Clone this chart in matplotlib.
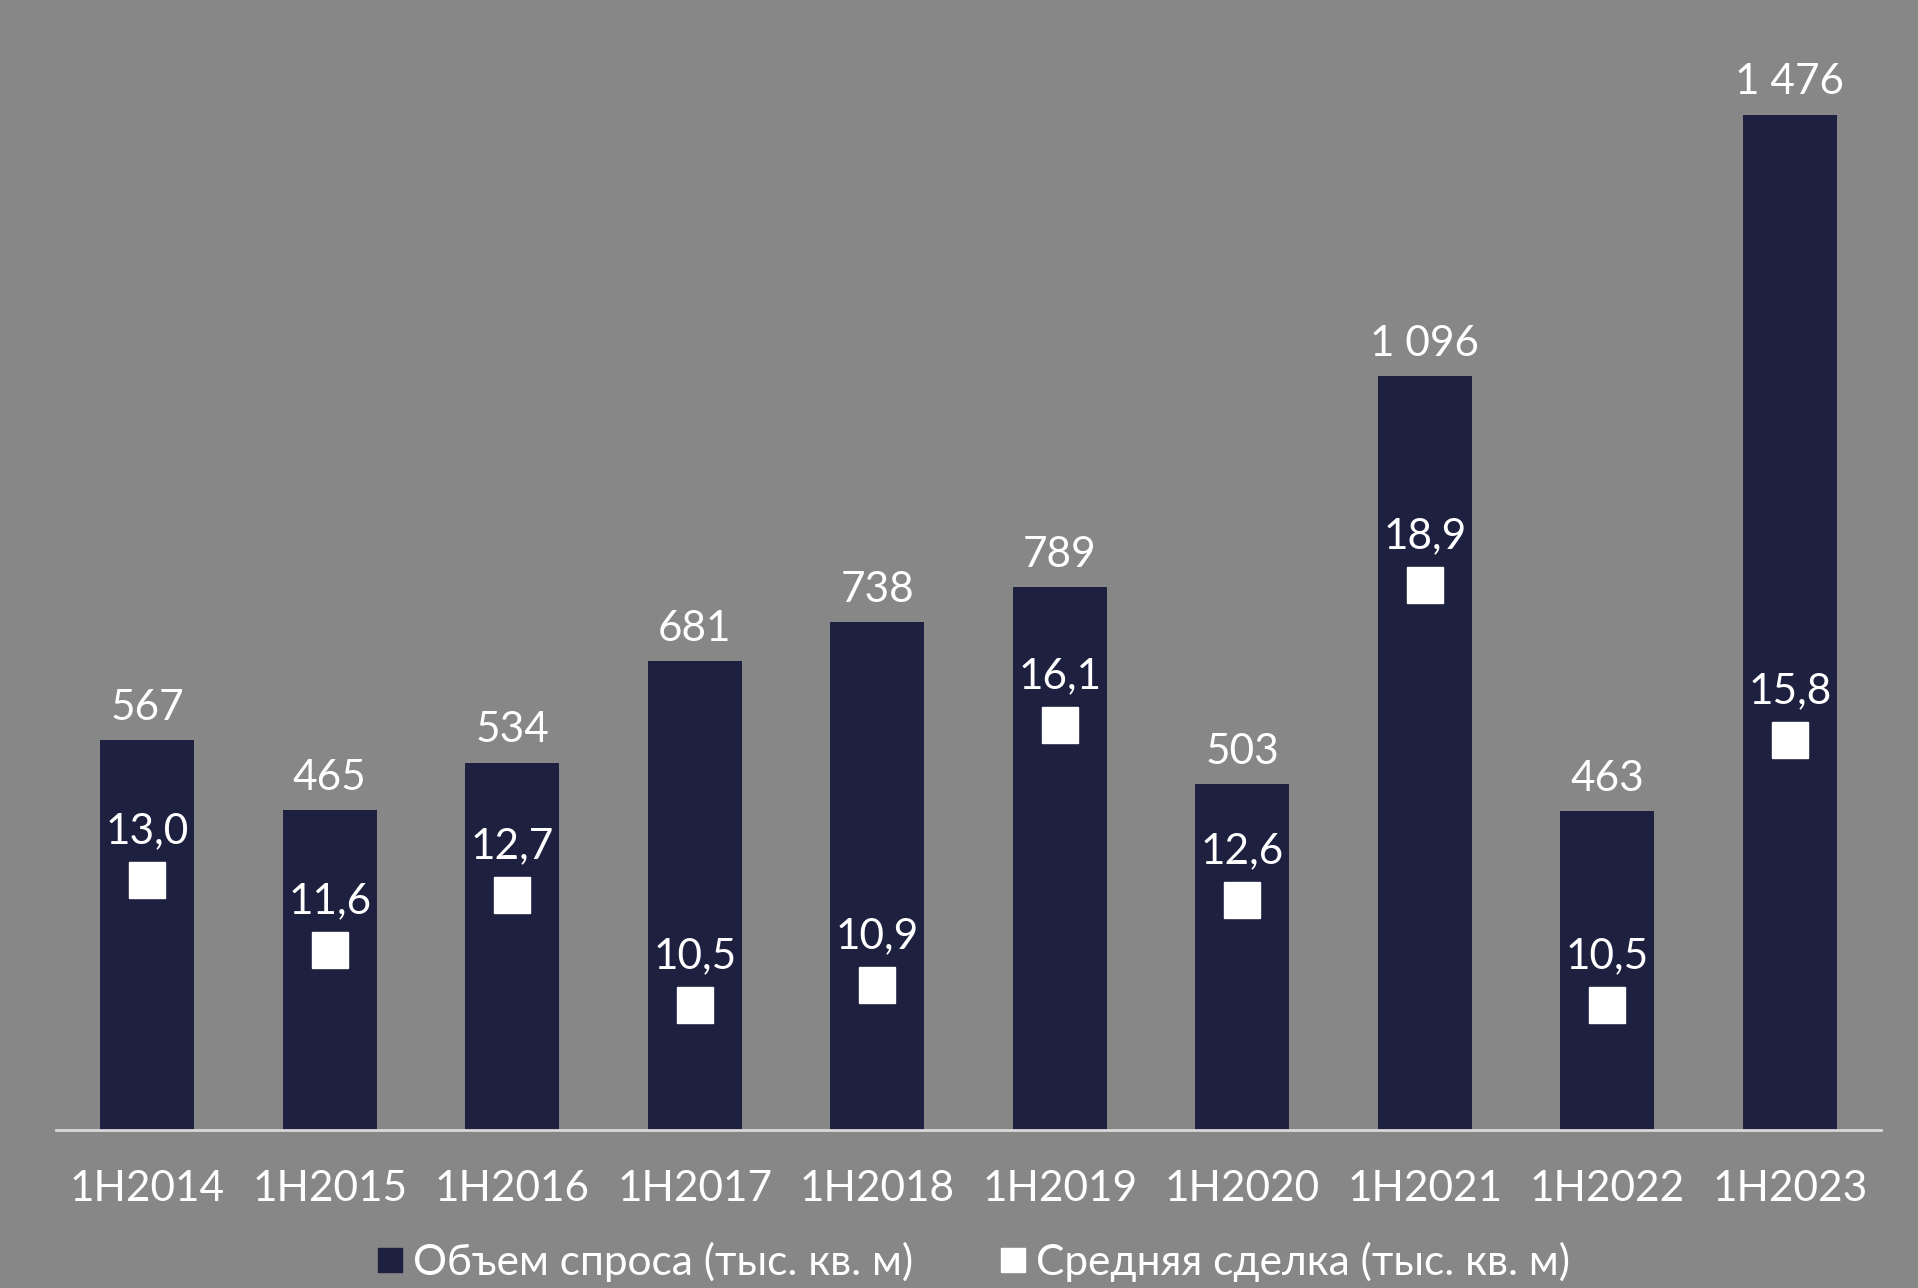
import matplotlib
matplotlib.use("Agg")
import matplotlib.pyplot as plt
from matplotlib.lines import Line2D

# Data
periods = ["1H2014", "1H2015", "1H2016", "1H2017", "1H2018",
           "1H2019", "1H2020", "1H2021", "1H2022", "1H2023"]
demand = [567, 465, 534, 681, 738, 789, 503, 1096, 463, 1476]
avg_deal = [13.0, 11.6, 12.7, 10.5, 10.9, 16.1, 12.6, 18.9, 10.5, 15.8]

BG = "#878787"
BAR = "#1e2040"
WHITE = "#ffffff"
FONT = ["Lato", "DejaVu Sans"]
FS = 30.5

plt.rcParams["font.family"] = FONT

W, H = 1918, 1288
fig = plt.figure(figsize=(W / 100, H / 100), dpi=100, facecolor=BG)
ax_bottom = 1130
ax_top = 40
ax = fig.add_axes([56 / W, (H - ax_bottom) / H, (1881 - 56) / W, (ax_bottom - ax_top) / H])
ax.set_facecolor(BG)

x = list(range(len(periods)))
ax.bar(x, demand, width=0.515, color=BAR, zorder=2)
ax.set_xlim(-0.5, len(periods) - 0.5)
ax.set_ylim(0, (ax_bottom - ax_top) / 0.688)

for xi, v in zip(x, demand):
    label = f"{v:,}".replace(",", " ")
    ax.annotate(label, (xi, v), xytext=(0, 14.5), textcoords="offset points",
                ha="center", va="baseline", color=WHITE, fontsize=FS)

ax2 = ax.twinx()
ax2.set_ylim(8, 8 + (ax_bottom - ax_top) / 50)
ax2.plot(x, avg_deal, ls="none", marker="s", markersize=26.4,
         color=WHITE, zorder=3)
for xi, v in zip(x, avg_deal):
    ax2.annotate(f"{v:.1f}".replace(".", ","), (xi, v), xytext=(0, 26.6),
                 textcoords="offset points", ha="center", va="baseline",
                 color=WHITE, fontsize=FS)

for a in (ax, ax2):
    for side in ("top", "right", "left"):
        a.spines[side].set_visible(False)
    a.set_yticks([])
ax2.spines["bottom"].set_visible(False)
ax.spines["bottom"].set_color("#d9d9d9")
ax.spines["bottom"].set_linewidth(2)
ax.spines["bottom"].set_zorder(4)

ax.set_xticks(x)
ax.set_xticklabels(periods, color=WHITE, fontsize=FS)
ax.tick_params(axis="x", length=0, pad=28.5)

handles = [
    Line2D([], [], ls="none", marker="s", markersize=17, color=BAR),
    Line2D([], [], ls="none", marker="s", markersize=17, color=WHITE),
]
fig.legend(handles, ["Объем спроса (тыс. кв. м)", "Средняя сделка (тыс. кв. м)"],
           loc="center", bbox_to_anchor=(975 / W, (H - 1262) / H),
           ncol=2, frameon=False, fontsize=FS, labelcolor=WHITE,
           handlelength=0.5, handletextpad=0.3, columnspacing=2.1,
           borderpad=0)

fig.savefig("out.png", dpi=100, facecolor=BG)
